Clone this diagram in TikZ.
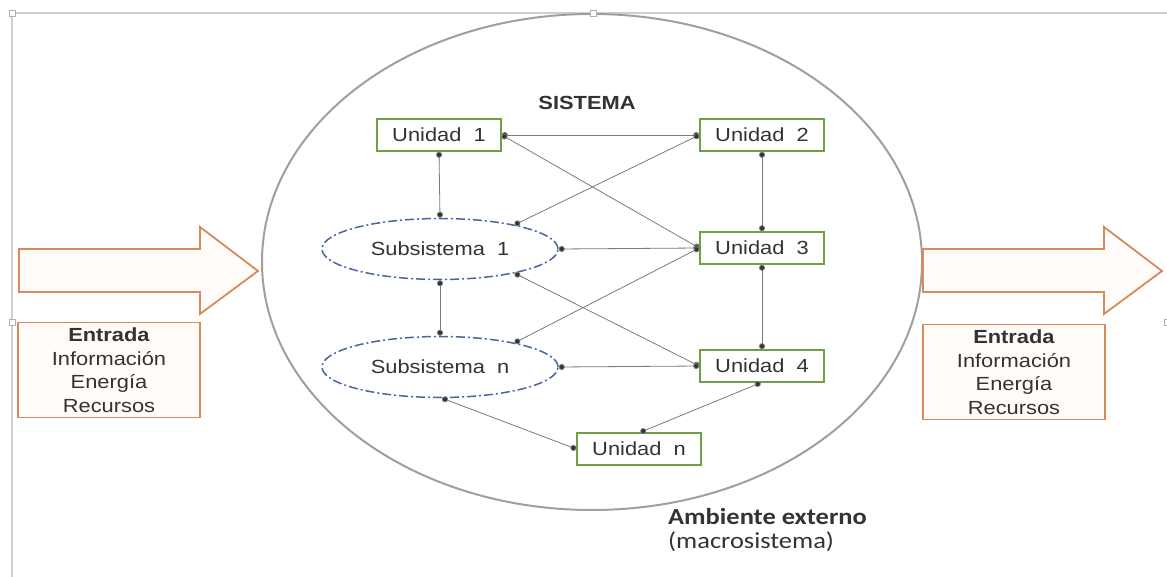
\documentclass[tikz,border=0pt]{standalone}
\usepackage{fontspec}
\setmainfont[FakeStretch=1.15]{Liberation Sans}
\newfontfamily\calib[FakeStretch=1.15]{Carlito}
\usetikzlibrary{arrows.meta,shapes.geometric}
\definecolor{boxgreen}{HTML}{6E9E45}
\definecolor{subblue}{HTML}{4A64A6}
\definecolor{arroworange}{HTML}{D9895C}
\definecolor{linegray}{HTML}{7A7A7A}
\definecolor{framegray}{HTML}{CFCFCF}
\definecolor{textgray}{HTML}{333333}
\tikzset{
  unitbox/.style={draw=boxgreen, line width=1.6pt, fill=white, minimum width=124pt, minimum height=32pt, inner sep=0pt, text=textgray, font=\fontsize{19}{22}\selectfont},
  subell/.style={ellipse, draw=subblue, line width=1.5pt, dash pattern=on 9pt off 3pt on 2pt off 3pt, minimum width=236pt, minimum height=61pt, inner sep=0pt, text=textgray, font=\fontsize{19}{22}\selectfont},
  conn/.style={draw=linegray, line width=0.8pt, {Circle[length=6pt,fill=black!80]}-{Circle[length=6pt,fill=black!80]}},
  bigarrow/.style={draw=arroworange, line width=1.8pt, fill=orange!2, line join=miter},
  infobox/.style={draw=arroworange, line width=1.8pt, fill=orange!2, minimum width=182pt, minimum height=95pt, inner sep=0pt, align=center, text=textgray, font=\fontsize{19}{23.5}\selectfont},
  handle/.style={draw=gray!60, fill=white, line width=0.6pt, minimum size=6pt, inner sep=0pt}
}
\begin{document}
\begin{tikzpicture}[x=1pt,y=-1pt]
\useasboundingbox (0,0) rectangle (1167,577);
% frame lines
\draw[framegray, line width=1.2pt] (12,13) -- (1167,13);
\draw[framegray, line width=1.2pt] (12,13) -- (12,577);
% big system ellipse
\node (sys) [ellipse, draw=gray!75, line width=2pt, minimum width=660pt, minimum height=496pt, inner sep=0pt] at (592,262) {};
\node (h1) [handle] at (12,13) {};
\node (h2) [handle] at (593,13) {};
\node (h3) [handle] at (12,322) {};
\node (h4) [handle] at (1167,322) {};
% title
\node (title) [text=textgray] at (587,103) {\fontsize{19}{22}\selectfont\bfseries SISTEMA};
% units
\node (u1) [unitbox] at (439,135) {Unidad\ \ 1};
\node (u2) [unitbox] at (762,135) {Unidad\ \ 2};
\node (u3) [unitbox] at (762,248) {Unidad\ \ 3};
\node (u4) [unitbox] at (762,366) {Unidad\ \ 4};
\node (un) [unitbox] at (639,449) {Unidad\ \ n};
% subsystems
\node (s1) [subell] at (440,249) {Subsistema\ \ 1};
\node (sn) [subell] at (440,367) {Subsistema\ \ n};
% connectors
\draw[conn] (u1.east) -- (u2.west);
\draw[conn] (u1.east) -- (u3.west);
\draw[conn] (u2.west) -- (s1.18);
\draw[conn] (u1.south) -- (s1.north);
\draw[conn] (u2.south) -- (u3.north);
\draw[conn] (u3.west) -- (s1.east);
\draw[conn] (u3.west) -- (sn.18);
\draw[conn] (s1.-18) -- (u4.west);
\draw[conn] (s1.south) -- (sn.north);
\draw[conn] (u3.south) -- (u4.north);
\draw[conn] (u4.west) -- (sn.east);
\draw[conn] (u4.-95) -- (un.85);
\draw[conn] (sn.-86) -- (un.west);
% left arrow
\draw[bigarrow] (19,249) -- (200,249) -- (200,227) -- (258,271) -- (200,314) -- (200,292) -- (19,292) -- cycle;
\node (inL) [infobox] at (109,370) {\textbf{Entrada}\\Información\\Energía\\Recursos};
% right arrow
\draw[bigarrow] (923,249) -- (1104,249) -- (1104,227) -- (1162,271) -- (1104,314) -- (1104,292) -- (923,292) -- cycle;
\node (inR) [infobox] at (1014,372) {\textbf{Entrada}\\Información\\Energía\\Recursos};
% external environment
\node (amb) [anchor=north west, align=left, inner sep=0pt, text=textgray, font=\calib\fontsize{23}{24}\selectfont] at (668,508) {\textbf{Ambiente externo}\\(macrosistema)};
\end{tikzpicture}
\end{document}
